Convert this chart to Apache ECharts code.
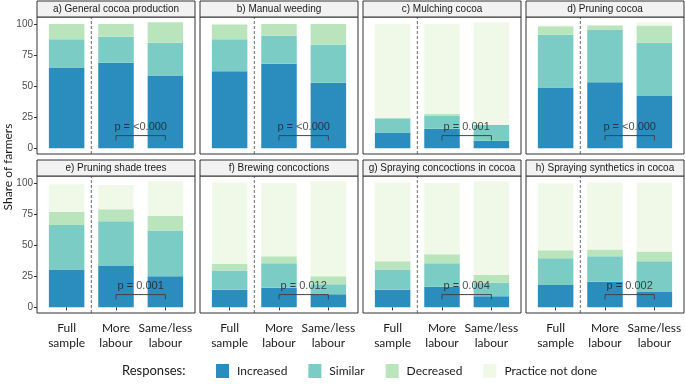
<!DOCTYPE html>
<html>
<head>
<meta charset="utf-8">
<script src="https://cdn.jsdelivr.net/npm/echarts@6/dist/echarts.min.js"></script>
<style>html,body{margin:0;padding:0;background:#fff;}#c{width:685px;height:384px;}</style>
</head>
<body>
<div id="c"></div>
<script>
// ---- Data ----
const categories = ['Full\nsample', 'More\nlabour', 'Same/less\nlabour'];
const panelTitles = ['a) General cocoa production', 'b) Manual weeding', 'c) Mulching cocoa', 'd) Pruning cocoa',
  'e) Pruning shade trees', 'f) Brewing concoctions', 'g) Spraying concoctions in cocoa', 'h) Spraying synthetics in cocoa'];
const responses = ['Increased', 'Similar', 'Decreased', 'Practice not done'];
const increased = [[65, 68.7, 58.6], [62, 67.9, 52.7], [12.6, 15.8, 6.1], [48.9, 53.2, 42], [30.3, 33.2, 24.9], [14.2, 15.8, 10.5], [14.2, 16.6, 8.8], [18, 20.6, 12.3]];
const similar = [[22.7, 21.1, 26.2], [25.7, 22.7, 30.5], [11.6, 10.6, 12.8], [42.5, 42.3, 42.8], [35.9, 36, 36.8], [15.3, 19.6, 8], [16.1, 18.8, 11], [21.4, 20.4, 24.7]];
const decreased = [[12.3, 10.2, 16.5], [11.8, 9.4, 16.8], [0, 1.3, 0], [6.7, 3.2, 13.9], [10.5, 9.6, 12], [5.6, 5.6, 6.4], [6.7, 7.2, 6.2], [6.4, 5.4, 7.8]];
const notDone = [[0, 0, 0], [0, 0, 0], [75.8, 72.3, 82.4], [0.8, 0, 2.6], [22.2, 19.6, 27.6], [65.2, 59, 76.4], [63.3, 57.4, 75.3], [53.7, 54, 55.5]];
const pValues = ['<0.000', '<0.000', '0.001', '<0.000', '0.001', '0.012', '0.004', '0.002'];
const yTicks = [0, 25, 50, 75, 100];
const yMin = -4.6, yMax = 105.6;
const bracketTop = 10.2, bracketFoot = 6.3, pLabelY = 16.8;
const separatorX = 1.5; // between "Full sample" and "More labour"

// ---- Style / layout ----
const colors = ['#2b8cbe', '#7bccc4', '#bae4bc', '#f0f9e8'];
const colLeft = [37, 200, 363, 526];
const rowTop = [17, 176];
const panelW = 158, panelH = 137, stripH = 16;
const band = panelW / 3.2;           // ggplot discrete expansion 0.6 each side
const pad = band * 0.1;              // extra gap between frame and category bands
const labelFont = 'Lato';
const plotFont = 'Liberation Sans';

const chart = echarts.init(document.getElementById('c'), null, {renderer: 'canvas'});
const grids = [], xAxes = [], yAxes = [], series = [], graphics = [];
const valueSets = [increased, similar, decreased, notDone];

for (let p = 0; p < 8; p++) {
  const r = Math.floor(p / 4), c = p % 4;
  const left = colLeft[c], top = rowTop[r];
  grids.push({
    left: left + pad, top: top, width: band * 3, height: panelH,
    show: false, containLabel: false, outerBoundsMode: 'none'
  });
  const bottomRow = r === 1;
  xAxes.push({
    type: 'category', gridIndex: p, data: categories, boundaryGap: true,
    axisLine: {show: false}, splitLine: {show: false},
    axisTick: {show: bottomRow, alignWithLabel: true, length: 3, lineStyle: {color: '#333'}},
    axisLabel: {
      show: bottomRow, interval: 0, margin: 8,
      fontFamily: labelFont, fontSize: 12, lineHeight: 15, color: '#1a1a1a'
    }
  });
  const leftCol = c === 0;
  yAxes.push({
    type: 'value', gridIndex: p, min: yMin, max: yMax, offset: pad,
    splitLine: {show: false}, axisLine: {show: false},
    axisTick: {show: leftCol, customValues: yTicks, length: 3, lineStyle: {color: '#333'}},
    axisLabel: {show: leftCol, customValues: yTicks, margin: 4, fontFamily: plotFont, fontSize: 10, color: '#4d4d4d'}
  });
  valueSets.forEach((vals, k) => {
    series.push({
      type: 'bar', name: responses[k], xAxisIndex: p, yAxisIndex: p, stack: 'g' + p,
      barWidth: 35.5, itemStyle: {color: colors[k]},
      data: vals[p],
      emphasis: {disabled: true}
    });
  });
  // significance bracket between "More labour" and "Same/less labour"
  series.push({
    type: 'line', name: 'bracket' + p, xAxisIndex: p, yAxisIndex: p, z: 5,
    symbol: 'none', silent: true, lineStyle: {color: '#444', width: 1},
    data: [[1, bracketFoot], [1, bracketTop], [2, bracketTop], [2, bracketFoot]]
  });
  series.push({
    type: 'scatter', name: 'plabel' + p, xAxisIndex: p, yAxisIndex: p, z: 6,
    symbolSize: 1, itemStyle: {color: 'rgba(0,0,0,0)'}, silent: true,
    data: [[1, pLabelY]],
    label: {show: true, position: 'inside', offset: [band / 2, 0], formatter: 'p = ' + pValues[p],
      fontFamily: plotFont, fontSize: 11, color: '#222'}
  });
  // panel frame
  graphics.push({
    type: 'rect', z: 10, shape: {x: left, y: top, width: panelW, height: panelH},
    style: {fill: 'none', stroke: '#333', lineWidth: 1}, silent: true
  });
  // facet strip
  graphics.push({
    type: 'rect', z: 10, shape: {x: left, y: top - stripH, width: panelW, height: stripH},
    style: {fill: '#f2f2f2', stroke: '#333', lineWidth: 1}, silent: true
  });
  graphics.push({
    type: 'text', z: 11, x: left + panelW / 2, y: top - stripH / 2, silent: true,
    style: {text: panelTitles[p], fill: '#1a1a1a', font: '10px "Liberation Sans"', align: 'center', verticalAlign: 'middle'}
  });
}

// secondary (hidden) value x-axes for the dashed separator between groups
for (let p = 0; p < 8; p++) {
  xAxes.push({type: 'value', gridIndex: p, min: 0.5, max: 3.5, show: false});
  series.push({
    type: 'line', name: 'sep' + p, xAxisIndex: 8 + p, yAxisIndex: p, z: 4,
    symbol: 'none', silent: true, lineStyle: {color: '#444', width: 0.8, type: [3, 2]},
    data: [[separatorX, yMin], [separatorX, yMax]]
  });
}

graphics.push({
  type: 'text', x: 8, y: 167, rotation: Math.PI / 2, silent: true,
  style: {text: 'Share of farmers', fill: '#1a1a1a', font: '12px Lato', align: 'center', verticalAlign: 'middle'}
});
graphics.push({
  type: 'text', x: 122, y: 371, silent: true,
  style: {text: 'Responses:', fill: '#1a1a1a', font: '13px Lato', align: 'left', verticalAlign: 'middle'}
});

chart.setOption({
  animation: false,
  backgroundColor: '#fff',
  grid: grids, xAxis: xAxes, yAxis: yAxes, series: series,
  graphic: graphics,
  legend: {
    data: responses, left: 216, top: 364, padding: 0, orient: 'horizontal',
    icon: 'rect', itemWidth: 13, itemHeight: 14, itemGap: 21,
    selectedMode: false,
    textStyle: {fontFamily: labelFont, fontSize: 12, color: '#1a1a1a', padding: [0, 0, 0, 3]}
  }
});
</script>
</body>
</html>
